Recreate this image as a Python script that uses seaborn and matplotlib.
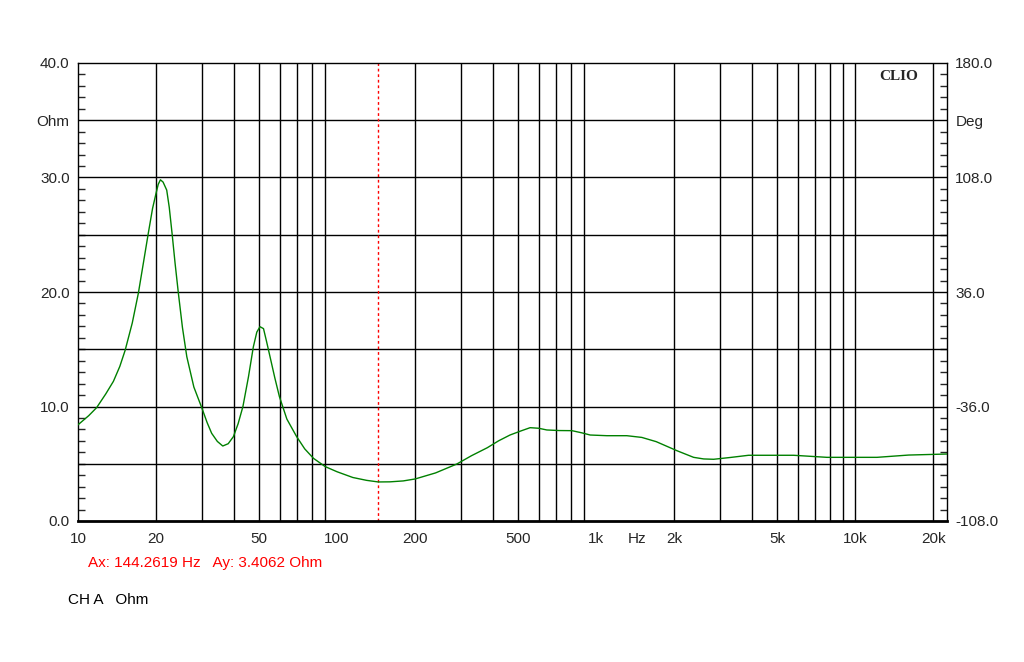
import numpy as np
import pandas as pd
import seaborn as sns
import matplotlib.pyplot as plt
from matplotlib.ticker import FixedLocator, NullLocator

# impedance curve (Hz, Ohm)
freq = [10, 11.0, 11.8, 12.8, 13.7, 14.5, 15.2, 16.2, 17.1, 17.9, 18.7, 19.4, 20.0, 20.4,
        20.8, 21.3, 22.0, 22.5, 23.1, 23.7, 24.4, 25.3, 26.3, 28.0, 30.1, 31.5, 32.8,
        34.5, 36.2, 38.0, 39.8, 41.5, 43.3, 45.5, 47.5, 49.0, 50.4, 52.0, 53.4, 55.1,
        57.5, 59.9, 64.0, 69.8, 75.0, 81.1, 90, 100, 115, 130, 144.3, 160, 180, 200,
        240, 290, 330, 380, 420, 465, 510, 556, 600, 645, 720, 806, 880, 948, 1100,
        1313, 1500, 1705, 2050, 2377, 2600, 2840, 3300, 3875, 5780, 7780, 12130, 16080,
        22600]
ohm = [8.4, 9.2, 9.9, 11.1, 12.2, 13.5, 14.9, 17.3, 19.9, 22.6, 25.2, 27.3, 28.6, 29.4,
       29.8, 29.6, 28.9, 27.4, 25.0, 22.5, 19.9, 16.9, 14.35, 11.7, 9.84, 8.6, 7.66,
       6.95, 6.55, 6.75, 7.37, 8.5, 9.99, 12.6, 15.2, 16.5, 16.97, 16.8, 15.7, 14.35,
       12.5, 10.86, 8.9, 7.37, 6.3, 5.47, 4.75, 4.3, 3.8, 3.55, 3.41, 3.42, 3.5, 3.67,
       4.2, 4.98, 5.7, 6.4, 7.0, 7.51, 7.85, 8.15, 8.1, 7.95, 7.9, 7.89, 7.7, 7.51, 7.45,
       7.45, 7.3, 6.93, 6.14, 5.56, 5.42, 5.39, 5.55, 5.74, 5.74, 5.56, 5.56, 5.76,
       5.85]

x_ticks = [10, 20, 50, 100, 200, 500, 1000, 1440, 2000, 5000, 10000, 20000]
x_labels = ["10", "20", "50", "100", "200", "500", "1k", "Hz", "2k", "5k", "10k", "20k"]
y_ticks = [0, 10, 20, 30, 35, 40]
y_labels = ["0.0", "10.0", "20.0", "30.0", "Ohm", "40.0"]
deg_labels = ["-108.0", "-36.0", "36.0", "108.0", "Deg", "180.0"]

cursor_f = 144.2619
cursor_v = 3.4062

sns.set_style("white")
plt.rcParams['font.family'] = ['Liberation Sans', 'DejaVu Sans']

df = pd.DataFrame({"Hz": freq, "Ohm": ohm})

fig = plt.figure(figsize=(10.24, 6.62), dpi=100)
ax = fig.add_axes([78 / 1024, 1 - 521 / 662, 869 / 1024, 458 / 662])

sns.lineplot(data=df, x="Hz", y="Ohm", ax=ax, color="#008000", linewidth=1.0, zorder=3)
ax.set_xscale("log")
ax.set_xlim(10, 22600)
ax.set_ylim(0, 40)

# grid
grid_f = [v * d for d in (10, 100, 1000) for v in range(2, 10)] + [10000, 20000]
for g in grid_f:
    ax.axvline(g, color="black", lw=1.0, zorder=1)
for h in range(5, 40, 5):
    ax.axhline(h, color="black", lw=1.0, zorder=1)

ax.axvline(cursor_f, color="red", lw=1.0, ls=(0, (2, 2)), zorder=2)

ax2 = ax.twinx()
ax2.set_ylim(-108, 180)
ax2.yaxis.set_major_locator(FixedLocator([-108, -36, 36, 108, 144, 180]))
ax2.set_yticklabels(deg_labels)
ax2.tick_params(axis="y", length=0, labelsize=11, pad=6)
for s in ax2.spines.values():
    s.set_visible(False)

ax.xaxis.set_major_locator(FixedLocator(x_ticks))
ax.xaxis.set_minor_locator(NullLocator())
ax.set_xticklabels(x_labels)
ax.yaxis.set_major_locator(FixedLocator(y_ticks))
ax.set_yticklabels(y_labels)
ax.yaxis.set_minor_locator(FixedLocator(range(1, 40)))
ax.tick_params(axis="x", length=0, labelsize=11, pad=8)
ax.tick_params(axis="y", which="major", length=0, labelsize=11, pad=6)
ax.tick_params(axis="y", which="minor", direction="in", length=5, width=1,
               left=True, right=True, labelright=False)
ax.set_xlabel("")
ax.set_ylabel("")

for s in ax.spines.values():
    s.set_color("black")
    s.set_linewidth(1.0)
ax.spines["bottom"].set_linewidth(2.0)

ax.text(0.967, 0.985, "CLIO", transform=ax.transAxes, ha="right", va="top",
        fontsize=11, fontweight="bold", family=["Liberation Serif", "DejaVu Serif"])

fig.text(88 / 1024, 1 - 563 / 662, f"Ax: {cursor_f:.4f} Hz   Ay: {cursor_v:.4f} Ohm",
         color="red", fontsize=11, va="center")
fig.text(68 / 1024, 1 - 600 / 662, "CH A   Ohm", color="black", fontsize=11, va="center")

fig.savefig("out.png", dpi=100, facecolor="white")
